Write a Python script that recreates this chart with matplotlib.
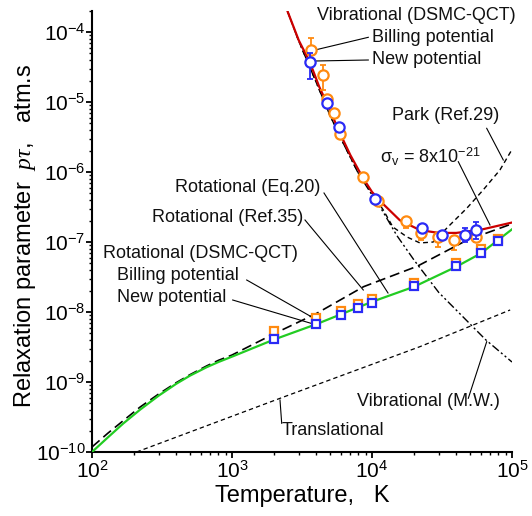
import numpy as np
import matplotlib
matplotlib.use("Agg")
import matplotlib.pyplot as plt
from matplotlib.ticker import NullFormatter

plt.rcParams['font.family'] = ['Liberation Sans', 'DejaVu Sans']
plt.rcParams['mathtext.fontset'] = 'custom'
plt.rcParams['mathtext.rm'] = 'Liberation Sans'
plt.rcParams['mathtext.it'] = 'Liberation Serif:italic'
plt.rcParams['mathtext.bf'] = 'Liberation Sans:bold'
plt.rcParams['axes.unicode_minus'] = False

# ---------------- data ----------------
x_ticks = [1e2, 1e3, 1e4, 1e5]
y_ticks = [1e-10, 1e-9, 1e-8, 1e-7, 1e-6, 1e-5, 1e-4]

# Vibrational DSMC-QCT, Billing potential (orange circles)
T_vib_billing = [3650, 4440, 4800, 5350, 5900, 8620, 11100, 17500, 22400, 29800, 38500, 55600]
p_vib_billing = [5.5e-5, 2.43e-5, 1.09e-5, 7.0e-6, 3.5e-6, 8.5e-7, 3.8e-7, 2.0e-7, 1.35e-7, 1.18e-7, 1.07e-7, 1.19e-7]
p_vib_billing_lo = [5.5e-5, 1.48e-5, 1.09e-5, 7.0e-6, 3.5e-6, 8.5e-7, 3.8e-7, 1.58e-7, 1.07e-7, 8.6e-8, 7.7e-8, 1.01e-7]
p_vib_billing_hi = [8.2e-5, 3.38e-5, 1.09e-5, 7.0e-6, 3.5e-6, 8.5e-7, 3.8e-7, 2.0e-7, 1.35e-7, 1.18e-7, 1.07e-7, 1.19e-7]

# Vibrational DSMC-QCT, new potential (blue circles)
T_vib_new = [3600, 4750, 5840, 10500, 22600, 31700, 45900, 55300]
p_vib_new = [3.7e-5, 9.6e-6, 4.4e-6, 4.1e-7, 1.58e-7, 1.26e-7, 1.26e-7, 1.5e-7]
p_vib_new_lo = [2.13e-5, 9.6e-6, 4.4e-6, 4.1e-7, 1.58e-7, 1.26e-7, 1.01e-7, 1.1e-7]
p_vib_new_hi = [5.0e-5, 9.6e-6, 4.4e-6, 4.1e-7, 1.58e-7, 1.26e-7, 1.58e-7, 1.95e-7]

# Rotational DSMC-QCT (squares)
T_rot = [2000, 4000, 6000, 8000, 10000, 20000, 40000, 60000, 80000]
p_rot_billing = [5.4e-9, 8.1e-9, 1.04e-8, 1.29e-8, 1.52e-8, 2.62e-8, 5.06e-8, 7.9e-8, 1.1e-7]
p_rot_new = [4.1e-9, 6.7e-9, 9.1e-9, 1.13e-8, 1.36e-8, 2.38e-8, 4.6e-8, 7.0e-8, 1.04e-7]

# Vibrational, sigma_v = 8e-21 (red solid)
T_sigma = [2500, 3000, 3600, 4200, 4800, 5900, 7000, 8600, 10000, 12000, 15800, 22000, 30000, 40000, 60000, 100000]
p_sigma = [1.95e-4, 7.6e-5, 3.7e-5, 1.65e-5, 9.3e-6, 3.6e-6, 1.75e-6, 8.3e-7, 5.2e-7, 3.5e-7, 2.05e-7, 1.48e-7, 1.35e-7, 1.35e-7, 1.5e-7, 1.9e-7]

# Vibrational, Millikan-White (dash-dot-dot)
T_mw = [2500, 3000, 4000, 5000, 6000, 8000, 10000, 12000, 15000, 20000, 30000, 45000, 65000, 100000]
p_mw = [1.95e-4, 7.4e-5, 1.9e-5, 6.5e-6, 3.0e-6, 9.5e-7, 4.7e-7, 2.7e-7, 1.25e-7, 5.5e-8, 1.9e-8, 8.4e-9, 4.0e-9, 1.93e-9]

# Park (Ref.29) (short dashes)
T_park = [2500, 3000, 4000, 5000, 6000, 8000, 10000, 12000, 14100, 17800, 22000, 27300, 36000, 47700, 62000, 82000, 100000]
p_park = [1.95e-4, 7.4e-5, 1.9e-5, 6.5e-6, 3.0e-6, 9.6e-7, 5.0e-7, 2.9e-7, 1.64e-7, 1.18e-7, 9.7e-8, 1.0e-7, 1.75e-7, 3.06e-7, 5.5e-7, 1.07e-6, 2.1e-6]

# Rotational (Ref.35) (long dashes)
T_ref35 = [100, 130, 170, 220, 300, 400, 500, 660, 800, 1000, 2000, 4000, 8700, 21000, 48000, 100000]
p_ref35 = [1.18e-10, 1.86e-10, 2.88e-10, 4.37e-10, 6.76e-10, 9.8e-10, 1.27e-9, 1.7e-9, 2.04e-9, 2.43e-9, 4.9e-9, 9.5e-9, 2.3e-8, 4.5e-8, 1.07e-7, 1.82e-7]

# Rotational (Eq.20) (green solid)
T_eq20 = [100, 130, 167, 220, 300, 400, 500, 660, 800, 1020, 2000, 4000, 10000, 20000, 40000, 60000, 100000]
p_eq20 = [1.0e-10, 1.62e-10, 2.55e-10, 4.01e-10, 6.4e-10, 9.44e-10, 1.23e-9, 1.63e-9, 1.93e-9, 2.34e-9, 4.05e-9, 6.7e-9, 1.40e-8, 2.3e-8, 4.44e-8, 6.9e-8, 1.52e-7]

# Translational (short dashes)
T_trans = [208, 2280, 22000, 97000]
p_trans = [1.0e-10, 6.0e-10, 3.2e-9, 1.07e-8]

ORANGE = '#FF8A10'
BLUE = '#2A2AF5'
RED = '#CC0000'
GREEN = '#22CC22'

# ---------------- figure ----------------
W_PX, H_PX = 532, 516
AX_L, AX_B, AX_W, AX_H = 92, 452, 420, 441
fig = plt.figure(figsize=(W_PX / 100, H_PX / 100), dpi=100)
ax = fig.add_axes([AX_L / W_PX, (H_PX - AX_B) / H_PX, AX_W / W_PX, AX_H / H_PX])
ax.set_xscale('log')
ax.set_yscale('log')
ax.set_xlim(1e2, 1e5)
ax.set_ylim(1e-10, 2e-4)
ax.set_xticks(x_ticks)
ax.set_yticks(y_ticks)
ax.xaxis.set_minor_formatter(NullFormatter())
ax.yaxis.set_minor_formatter(NullFormatter())

# lines
l, = ax.plot(T_trans, p_trans, color='black', lw=0.9, zorder=2)
l.set_dashes([3.5, 2.5])
l, = ax.plot(T_ref35, p_ref35, color='black', lw=1.2, zorder=2)
l.set_dashes([6, 3])
l, = ax.plot(T_mw, p_mw, color='black', lw=1.0, zorder=2)
l.set_dashes([6, 2, 1.5, 2, 1.5, 2])
l, = ax.plot(T_park, p_park, color='black', lw=1.0, zorder=2)
l.set_dashes([3.5, 2.5])
ax.plot(T_eq20, p_eq20, color=GREEN, lw=1.6, zorder=3)
ax.plot(T_sigma, p_sigma, color=RED, lw=1.6, zorder=3)

# markers
def yerr(p, lo, hi):
    p = np.array(p); lo = np.array(lo); hi = np.array(hi)
    return [p - lo, hi - p]

ax.errorbar(T_vib_billing, p_vib_billing, yerr=yerr(p_vib_billing, p_vib_billing_lo, p_vib_billing_hi),
            fmt='none', ecolor=ORANGE, elinewidth=1.3, capsize=2.2, capthick=1.3, zorder=4)
ax.plot(T_vib_billing, p_vib_billing, 'o', ms=7.4, mfc='white', mec=ORANGE, mew=1.6, zorder=5)
ax.errorbar(T_vib_new, p_vib_new, yerr=yerr(p_vib_new, p_vib_new_lo, p_vib_new_hi),
            fmt='none', ecolor=BLUE, elinewidth=1.3, capsize=2.2, capthick=1.3, zorder=6)
ax.plot(T_vib_new, p_vib_new, 'o', ms=7.4, mfc='white', mec=BLUE, mew=1.6, zorder=7)
ax.plot(T_rot, p_rot_billing, 's', ms=6.3, mfc='white', mec=ORANGE, mew=1.6, zorder=5)
ax.plot(T_rot, p_rot_new, 's', ms=6.3, mfc='white', mec=BLUE, mew=1.6, zorder=7)

# axes styling
for s in ['top', 'right']:
    ax.spines[s].set_visible(False)
for s in ['left', 'bottom']:
    ax.spines[s].set_linewidth(1.5)
ax.tick_params(which='major', direction='out', length=4, width=1.3, labelsize=15, pad=1.5)
ax.tick_params(which='minor', direction='out', length=2.5, width=1.0)
ax.tick_params(axis='y', which='major', pad=0.5)

ax.set_xlabel('Temperature,   K', fontsize=17)
ax.set_ylabel('Relaxation parameter  $p\\tau$,   atm.s', fontsize=17)
ax.xaxis.set_label_coords(0.5, -0.075)
ax.yaxis.set_label_coords(-0.128, 0.49)

# ---------------- annotations (layout in pixels) ----------------
def fr(x, y):
    return ((x - AX_L) / AX_W, (AX_B - y) / AX_H)

texts = [
    ('Vibrational (DSMC-QCT)', 316.7, 15),
    ('Billing potential', 371.7, 37.3),
    ('New potential', 371.7, 60),
    ('Park (Ref.29)', 391.7, 115),
    ('σ$_{\\rm v}$ = 8x10$^{-21}$', 380, 157),
    ('Rotational (Eq.20)', 175, 187),
    ('Rotational (Ref.35)', 152, 217),
    ('Rotational (DSMC-QCT)', 103.3, 253.3),
    ('Billing potential', 116.7, 275),
    ('New potential', 116.7, 297.3),
    ('Vibrational (M.W.)', 356.7, 401.7),
    ('Translational', 281.7, 430.7),
]
for s, x, y in texts:
    fx, fy = fr(x, y)
    ax.text(fx, fy, s, transform=ax.transAxes, ha='left', va='center', fontsize=13,
            color='#111111', clip_on=False, zorder=8)

leaders = [
    ((368.3, 37.3), (315, 50)),
    ((368.3, 60), (315, 61)),
    ((486.7, 128.3), (503.3, 160)),
    ((458.3, 161.7), (490, 225)),
    ((324, 193), (388, 293)),
    ((305, 220), (363.3, 290)),
    ((246.7, 280), (310, 316)),
    ((232.7, 300), (313.3, 324)),
    ((468.3, 398.3), (486.7, 341.7)),
    ((281.7, 423.3), (280, 400)),
]
for a, b in leaders:
    fa = fr(*a); fb = fr(*b)
    ax.plot([fa[0], fb[0]], [fa[1], fb[1]], color='black', lw=0.8,
            transform=ax.transAxes, clip_on=False, zorder=3)

fig.savefig('out.png', dpi=100)
